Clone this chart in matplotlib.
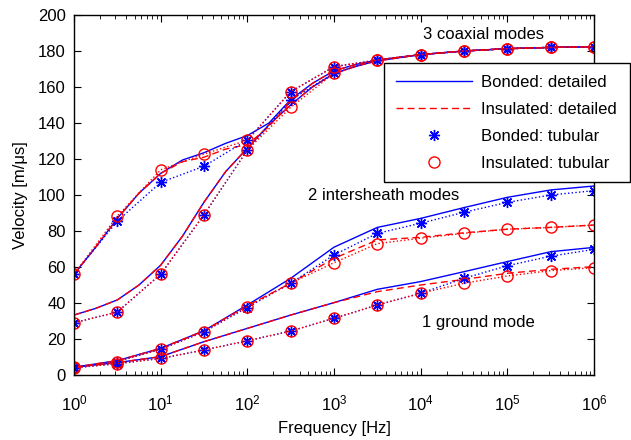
import numpy as np
import matplotlib.pyplot as plt
from matplotlib.lines import Line2D

plt.rcParams['font.family'] = ['Liberation Sans', 'DejaVu Sans']
plt.rcParams['font.size'] = 12

# frequency grids (Hz)
freq = [1, 3.162, 10, 31.62, 100, 316.2, 1e3, 3.162e3, 1e4, 3.162e4, 1e5, 3.162e5, 1e6]
freq_coax = [1, 1.778, 3.162, 5.623, 10, 17.78, 31.62, 56.23, 100, 177.8, 316.2, 562.3,
             1e3, 1.778e3, 3.162e3, 1e4, 3.162e4, 1e5, 3.162e5, 1e6]

# detailed model (lines)
coax1_bonded_det = [56, 71, 87, 101, 112, 119.4, 123.5, 128.7, 133, 140, 153, 162,
                    169, 172.5, 175, 178, 180, 181.3, 182, 182.4]
coax1_insul_det = [56, 71, 87, 101, 112, 118.5, 121, 125.5, 128, 138, 152, 162,
                   169, 172.5, 175, 178, 180, 181.3, 182, 182.4]
coax2_bonded_det = [33.3, 37, 41.7, 50, 61, 77, 96, 113, 126, 139, 150, 160,
                    167.5, 171.5, 174.5, 178, 180, 181.3, 182, 182.4]
coax2_insul_det = [33.3, 37, 41.7, 50, 61, 77, 96, 113, 126, 139, 150, 160,
                   167.5, 171.5, 174.5, 178, 180, 181.3, 182, 182.4]
inter_bonded_det = [4.3, 8, 14.8, 24.6, 38.9, 53.7, 71, 82, 87, 93, 98.7, 102.8, 105]
inter_insul_det = [4.3, 8, 14.8, 24.6, 38.5, 51, 64.8, 75, 76.5, 79, 81, 82, 83.3]
ground_bonded_det = [4.3, 6.9, 10.2, 18.5, 25.9, 33.3, 40.2, 47.6, 51.9, 57.4, 63, 68.5, 70.9]
ground_insul_det = [4.3, 6.9, 10.2, 18.5, 25.9, 33.3, 40.2, 46.3, 50, 53.1, 56.5, 58.7, 60.2]

# tubular model (markers)
coax1_bonded_tub = [56, 85.5, 107, 116, 130.5, 157.4, 171.3, 175, 178, 180, 181.3, 182, 182.4]
coax1_insul_tub = [56, 88.3, 114, 122.8, 130.4, 157.4, 171.3, 175, 178, 180, 181.3, 182, 182.4]
coax2_bonded_tub = [29, 35, 56, 89, 125, 152.8, 167.6, 175, 178, 180, 181.3, 182, 182.4]
coax2_insul_tub = [29, 35, 56, 89, 125, 148.7, 167.6, 175, 178, 180, 181.3, 182, 182.4]
inter_bonded_tub = [4.3, 7.5, 14.3, 24, 37.5, 51, 66.7, 78.7, 84.3, 90.4, 95.9, 100, 102.4]
inter_insul_tub = [4.3, 7.5, 14.3, 24, 38, 51, 62.4, 73, 76, 78.7, 81, 82, 83.3]
ground_bonded_tub = [4, 6.3, 9.2, 13.9, 19, 24.4, 31.5, 38.9, 45.4, 53.7, 60.7, 66, 69.8]
ground_insul_tub = [4, 6.3, 9.2, 13.9, 19, 24.4, 31.5, 38.9, 45.4, 51, 55, 58, 59.6]

bonded_det = [(freq_coax, coax1_bonded_det), (freq_coax, coax2_bonded_det),
              (freq, inter_bonded_det), (freq, ground_bonded_det)]
insul_det = [(freq_coax, coax1_insul_det), (freq_coax, coax2_insul_det),
             (freq, inter_insul_det), (freq, ground_insul_det)]
bonded_tub = [coax1_bonded_tub, coax2_bonded_tub, inter_bonded_tub, ground_bonded_tub]
insul_tub = [coax1_insul_tub, coax2_insul_tub, inter_insul_tub, ground_insul_tub]

fig = plt.figure(figsize=(6.31, 4.40), dpi=100)
ax = fig.add_axes([74 / 631, 65 / 440, 520 / 631, 360 / 440])

star = (8, 2, 0)
dash = (0, (5, 3))
for f, v in bonded_det:
    ax.plot(f, v, color='blue', lw=1.0)
for f, v in insul_det:
    ax.plot(f, v, color='red', lw=1.0, ls=dash)
for v in bonded_tub:
    ax.plot(freq, v, color='blue', lw=1.0, ls=':', marker=star, ms=8, mew=1.0)
for v in insul_tub:
    ax.plot(freq, v, color='red', lw=1.0, ls=':', marker='o', ms=8,
            mfc='none', mew=1.0)

ax.set_xscale('log')
ax.set_xlim(1, 1e6)
ax.set_ylim(0, 200)
ax.set_yticks(np.arange(0, 201, 20))
ax.set_xticks([1, 10, 100, 1e3, 1e4, 1e5, 1e6])
ax.tick_params(which='both', direction='in', top=True, right=True)
ax.tick_params(which='major', length=5, labelsize=12)
ax.tick_params(axis='x', which='major', pad=13)
ax.tick_params(axis='y', which='major', pad=6)
ax.tick_params(which='minor', length=3)
for s in ax.spines.values():
    s.set_linewidth(1.0)

ax.set_xlabel('Frequency [Hz]', labelpad=6)
ax.set_ylabel('Velocity [m/\u03bcs]', labelpad=7)

ax.text(10**4.72, 189.4, '3 coaxial modes', ha='center', va='center')
ax.text(10**2.7, 99.6, '2 intersheath modes', ha='left', va='center')
ax.text(10**4.02, 29.3, '1 ground mode', ha='left', va='center')

handles = [
    Line2D([], [], color='blue', lw=1.0),
    Line2D([], [], color='red', lw=1.0, ls=dash),
    Line2D([], [], color='blue', ls='none', marker=star, ms=8),
    Line2D([], [], color='red', ls='none', marker='o', ms=8, mfc='none'),
]
labels = ['Bonded: detailed', 'Insulated: detailed', 'Bonded: tubular', 'Insulated: tubular']
leg = ax.legend(handles, labels, loc='upper left',
                bbox_to_anchor=(0.596, 0.867, 0.473, 0.0), mode='expand',
                borderaxespad=0, fancybox=False, framealpha=1,
                edgecolor='black', handlelength=4.6, handletextpad=0.55,
                labelspacing=0.72, borderpad=0.7, fontsize=12)
leg.get_frame().set_linewidth(1.0)

fig.savefig('out.png', dpi=100)
